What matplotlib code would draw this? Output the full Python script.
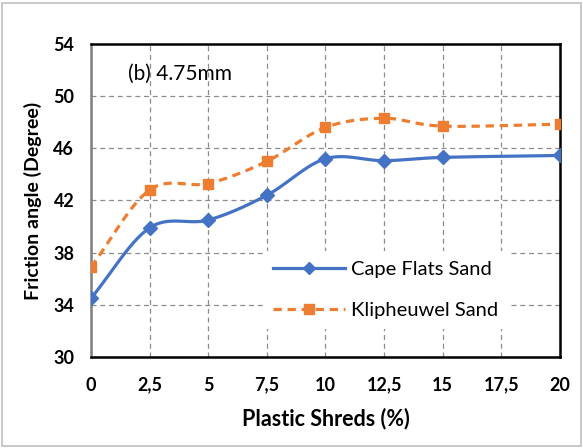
import matplotlib
matplotlib.use("Agg")
import matplotlib.pyplot as plt
import numpy as np
from matplotlib.patches import Rectangle

plt.rcParams['font.family'] = ['Lato', 'DejaVu Sans']

shreds = [0, 2.5, 5, 7.5, 10, 12.5, 15, 20]
cape_flats = [34.5, 39.9, 40.5, 42.4, 45.2, 45.05, 45.3, 45.45]
klipheuwel = [36.9, 42.8, 43.3, 45.0, 47.6, 48.3, 47.7, 47.85]
xticks = [0, 2.5, 5, 7.5, 10, 12.5, 15, 17.5, 20]
xticklabels = ['0', '2,5', '5', '7,5', '10', '12,5', '15', '17,5', '20']
yticks = [30, 34, 38, 42, 46, 50, 54]


def smooth(x, y, n=30):
    # Catmull-Rom curve through the points, like a spreadsheet "smoothed line"
    x = np.asarray(x, float)
    y = np.asarray(y, float)
    px = np.concatenate([[2 * x[0] - x[1]], x, [2 * x[-1] - x[-2]]])
    py = np.concatenate([[2 * y[0] - y[1]], y, [2 * y[-1] - y[-2]]])
    xs, ys = [], []
    t = np.linspace(0, 1, n)
    h00 = 2 * t**3 - 3 * t**2 + 1
    h10 = t**3 - 2 * t**2 + t
    h01 = -2 * t**3 + 3 * t**2
    h11 = t**3 - t**2
    for i in range(1, len(px) - 2):
        for p, out in ((px, xs), (py, ys)):
            p0, p1, p2, p3 = p[i - 1], p[i], p[i + 1], p[i + 2]
            m1 = (p2 - p0) / 2
            m2 = (p3 - p1) / 2
            out.extend(h00 * p1 + h10 * m1 + h01 * p2 + h11 * m2)
    return np.array(xs), np.array(ys)


fig = plt.figure(figsize=(5.83, 4.48), dpi=100)
ax = fig.add_axes([0.156, 0.203, 0.8045, 0.699])

blue = '#4472C4'
orange = '#ED7D31'
dash = (0, (2.6, 1.8))

sx, sy = smooth(shreds, cape_flats)
ax.plot(sx, sy, color=blue, lw=2.3, zorder=3)
ax.plot(shreds, cape_flats, ls='none', marker='D', ms=7.5, color=blue, zorder=4)
kx, ky = smooth(shreds, klipheuwel)
ax.plot(kx, ky, color=orange, lw=2.3, ls=dash, zorder=3)
ax.plot(shreds, klipheuwel, ls='none', marker='s', ms=7.5, color=orange, zorder=4)

# legend handles
h1, = ax.plot([], [], color=blue, lw=2.3, marker='D', ms=6.5)
h2, = ax.plot([], [], color=orange, lw=2.3, ls=dash, marker='s', ms=7)
leg = ax.legend([h1, h2], ['Cape Flats Sand', 'Klipheuwel Sand'], loc='lower left',
                bbox_to_anchor=(0.345, 0.056), frameon=True, fontsize=14.5,
                handlelength=3.6, labelspacing=1.2, borderpad=0.5,
                handletextpad=0.3)
leg.get_frame().set_edgecolor('none')
leg.get_frame().set_facecolor('white')
leg.get_frame().set_alpha(1)
leg.set_zorder(2.5)

ax.set_xlim(0, 20)
ax.set_ylim(30, 54)
ax.set_xticks(xticks)
ax.set_xticklabels(xticklabels)
ax.set_yticks(yticks)
ax.tick_params(length=0, labelsize=13)
ax.tick_params(axis='x', pad=14)
ax.tick_params(axis='y', pad=12)
for lab in ax.get_xticklabels() + ax.get_yticklabels():
    lab.set_fontweight('bold')
ax.grid(True, color='#8c8c8c', ls=(0, (4, 3)), lw=0.9, zorder=1)
ax.set_axisbelow(True)

for side in ['top', 'right', 'bottom']:
    ax.spines[side].set_color('black')
    ax.spines[side].set_linewidth(1.8)
ax.spines['left'].set_color('#7f7f7f')
ax.spines['left'].set_linewidth(1.8)

ax.set_xlabel('Plastic Shreds (%)', fontsize=15.5, fontweight='bold', labelpad=10)
ax.set_ylabel('Friction angle (Degree)', fontsize=14, fontweight='bold', labelpad=8)
ax.text(0.078, 0.905, '(b) 4.75mm', transform=ax.transAxes, fontsize=15,
        va='center', ha='left')

# chart area border
fig.patches.append(Rectangle((0.004, 0.004), 0.992, 0.99, transform=fig.transFigure,
                             fill=False, edgecolor='#bfbfbf', lw=1.2))

fig.savefig('out.png', dpi=100)
